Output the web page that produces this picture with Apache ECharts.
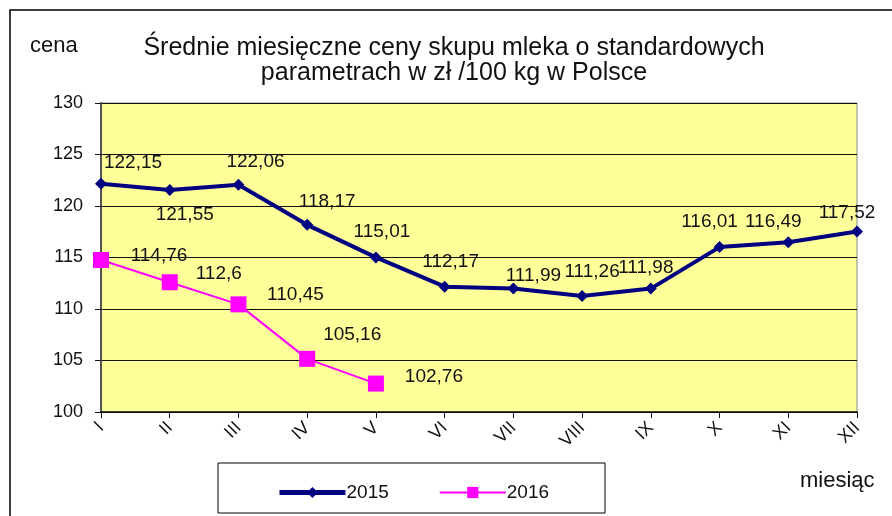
<!DOCTYPE html>
<html>
<head>
<meta charset="utf-8">
<script src="https://cdn.jsdelivr.net/npm/echarts@6/dist/echarts.min.js"></script>
<style>
  html, body { margin: 0; padding: 0; background: #fff; }
  #chart { width: 892px; height: 516px; }
</style>
</head>
<body>
<div id="chart"></div>
<script>
// miesiące (rzymskie)
const months = ['I', 'II', 'III', 'IV', 'V', 'VI', 'VII', 'VIII', 'IX', 'X', 'XI', 'XII'];
// ceny 2015 i 2016, zł / 100 kg
const prices2015 = [122.15, 121.55, 122.06, 118.17, 115.01, 112.17, 111.99, 111.26, 111.98, 116.01, 116.49, 117.52];
const prices2016 = [114.76, 112.6, 110.45, 105.16, 102.76];
// etykiety jak w Excelu (przecinek dziesiętny)
const labels2015 = ['122,15', '121,55', '122,06', '118,17', '115,01', '112,17', '111,99', '111,26', '111,98', '116,01', '116,49', '117,52'];
const labels2016 = ['114,76', '112,6', '110,45', '105,16', '102,76'];

// przesunięcia etykiet względem punktu (ręcznie, jak w oryginale)
const offsets2015 = [[32, -21], [15, 25], [17, -23], [20, -23], [6, -26], [6, -25], [20, -13], [10, -24], [-5, -21], [-10, -25], [-15, -20], [-10, -19]];
const offsets2016 = [[58, -4], [49, -8], [57, -10], [45, -24], [58, -7]];

const FONT = 'Liberation Sans, Arial, sans-serif';
const chart = echarts.init(document.getElementById('chart'));

const labelStyle = { show: true, position: 'inside', fontSize: 19, color: '#111', fontFamily: FONT };

function withLabels(values, texts, offsets) {
  return values.map((v, i) => ({
    value: v,
    label: Object.assign({}, labelStyle, { formatter: texts[i], offset: offsets[i] })
  }));
}

chart.setOption({
  animation: false,
  backgroundColor: '#fff',
  textStyle: { fontFamily: FONT },
  title: {
    text: 'Średnie miesięczne ceny skupu mleka o standardowych\nparametrach w zł /100 kg w Polsce',
    left: 449,
    top: 31,
    textAlign: 'center',
    textStyle: { fontSize: 25, fontWeight: 'normal', color: '#111', lineHeight: 25 }
  },
  graphic: [
    { type: 'rect', shape: { x: 10, y: 10, width: 900, height: 520 }, style: { fill: 'none', stroke: '#000', lineWidth: 1.5 }, z: -1 },
    { type: 'text', left: 30, top: 35, style: { text: 'cena', fontSize: 22, fill: '#111', fontFamily: FONT } },
    { type: 'text', left: 800, top: 470, style: { text: 'miesiąc', fontSize: 22, fill: '#111', fontFamily: FONT } },
    { type: 'rect', shape: { x: 218, y: 463, width: 387, height: 50 }, style: { fill: '#fff', stroke: '#000', lineWidth: 1 }, z: 1 }
  ],
  legend: {
    left: 272,
    top: 478,
    itemWidth: 66,
    itemHeight: 14,
    itemGap: 50,
    z: 5,
    textStyle: { fontSize: 19, color: '#111', padding: [0, 0, 0, -4] },
    data: [
      { name: '2015', lineStyle: { width: 5 } },
      { name: '2016', lineStyle: { width: 2 } }
    ]
  },
  grid: { left: 101, right: 35, top: 103, bottom: 104, show: true, backgroundColor: '#FFFF99', borderColor: '#888', borderWidth: 1 },
  xAxis: {
    type: 'category',
    data: months,
    boundaryGap: false,
    axisLine: { lineStyle: { color: '#111', width: 1.5 } },
    axisTick: { alignWithLabel: true, length: 6, lineStyle: { color: '#111' }, interval: 0 },
    axisLabel: { rotate: 45, fontSize: 18, color: '#111', margin: 13, interval: 0 },
    splitLine: { show: false }
  },
  yAxis: {
    type: 'value',
    min: 100,
    max: 130,
    interval: 5,
    axisLine: { show: true, lineStyle: { color: '#555', width: 2 } },
    axisTick: { show: true, length: 6, lineStyle: { color: '#111' } },
    axisLabel: { fontSize: 18, color: '#111', margin: 18 },
    splitLine: { lineStyle: { color: '#111', width: 1 } }
  },
  series: [
    {
      name: '2015',
      type: 'line',
      data: withLabels(prices2015, labels2015, offsets2015),
      symbol: 'diamond',
      symbolSize: 12,
      color: '#000080',
      lineStyle: { width: 4, color: '#000080' },
      itemStyle: { color: '#000080' },
      z: 3
    },
    {
      name: '2016',
      type: 'line',
      data: withLabels(prices2016, labels2016, offsets2016),
      symbol: 'rect',
      symbolSize: 16,
      color: '#FF00FF',
      lineStyle: { width: 2, color: '#FF00FF' },
      itemStyle: { color: '#FF00FF' },
      z: 4
    }
  ]
});
</script>
</body>
</html>
